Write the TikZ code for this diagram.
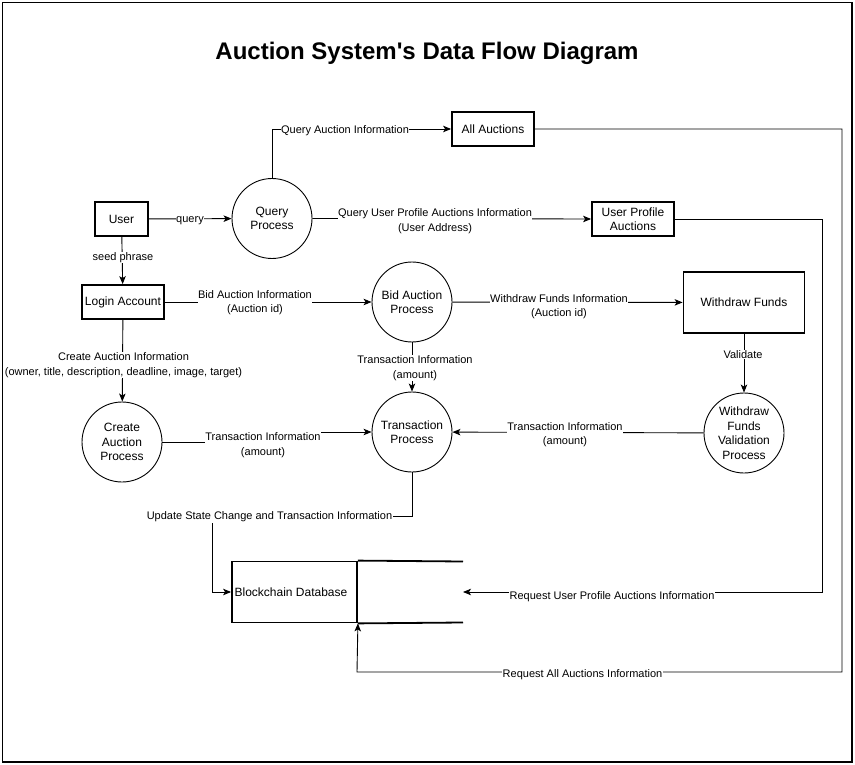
\documentclass[tikz,border=0pt]{standalone}
\usepackage{fontspec}
\setmainfont{Liberation Sans}
\newfontfamily\titlefont{Liberation Sans}
\usetikzlibrary{arrows.meta}
\begin{document}
\begin{tikzpicture}[x=1pt,y=-1pt,
  line width=0.9pt,
  arr/.style={-{Stealth[length=8pt,width=6.5pt,inset=2pt]}},
  boxn/.style={draw,line width=1.8pt,inner sep=0pt,font=\fontsize{12}{14}\selectfont,align=center},
  proc/.style={draw,circle,line width=0.9pt,minimum size=80pt,inner sep=0pt,font=\fontsize{12}{14.5}\selectfont,align=center},
  lbl/.style={fill=white,inner sep=0.5pt,font=\fontsize{11}{14.5}\selectfont,align=center,yshift=-1.5pt}
]
\useasboundingbox (0,0) rectangle (855,765);
\draw[line width=1.5pt] (2.5,2.5) rectangle (852,762);
\node[font=\titlefont\bfseries\fontsize{24}{28}\selectfont] (title) at (427,53) {Auction System's Data Flow Diagram};

% nodes
\node[boxn,minimum width=53pt,minimum height=34pt] (user) at (121.5,219) {User};
\node[proc] (qp) at (272,218.5) {Query\\Process};
\node[boxn,minimum width=82pt,minimum height=34pt] (all) at (493,129) {All Auctions};
\node[boxn,minimum width=82pt,minimum height=34pt] (upa) at (633,219) {User Profile\\Auctions};
\node[boxn,minimum width=82pt,minimum height=34pt] (login) at (123,302) {Login Account};
\node[proc] (bid) at (412,302) {Bid Auction\\Process};
\node[boxn,minimum width=121pt,minimum height=61pt] (wf) at (744,302.5) {Withdraw Funds};
\node[proc] (cap) at (122,442) {Create\\Auction\\Process};
\node[proc] (tp) at (412,432) {Transaction\\Process};
\node[proc] (wfv) at (744,433) {Withdraw\\Funds\\Validation\\Process};

% blockchain data store
\node[draw,line width=1.8pt,minimum width=125pt,minimum height=61pt,inner sep=0pt] (db) at (294.5,592) {};
\node[font=\fontsize{12}{14}\selectfont,inner sep=0pt] (dbtext) at (291,592) {Blockchain Database};
\coordinate (dbend) at (463,592);
\draw[line width=1.8pt] (db.north east) -- (463,561.5);
\draw[line width=1.8pt] (db.south east) -- (463,622.5);

% connectors
\draw[arr] (user) -- (qp);
\node[lbl] (l1) at (190,219) {query};

\draw[arr] (qp.north) |- (all.west);
\node[lbl] (l2) at (345,129) {Query Auction Information};

\draw[arr] (qp.east) -- (upa.west);
\node[lbl] (l3) at (435,219.5) {Query User Profile Auctions Information\\(User Address)};

\draw[arr] (user) -- (login);
\node[lbl] (l4) at (123,256) {seed phrase};

\draw[arr] (login) -- (bid);
\node[lbl] (l5) at (255,301) {Bid Auction Information\\(Auction id)};

\draw[arr] (login) -- (cap);
\node[lbl] (l6) at (123.5,363.5) {Create Auction Information\\(owner, title, description, deadline, image, target)};

\draw[arr] (bid) -- (wf);
\node[lbl] (l7) at (559,305) {Withdraw Funds Information\\(Auction id)};

\draw[arr] (bid) -- (tp);
\node[lbl] (l8) at (415,366.5) {Transaction Information\\(amount)};

\draw[arr] (wf) -- (wfv);
\node[lbl] (l9) at (743,353) {Validate};

\draw[arr] (wfv) -- (tp);
\node[lbl] (l10) at (565,433) {Transaction Information\\(amount)};

\draw[arr] (cap.east) -- (263,442) -- (263,432) -- (tp.west);
\node[lbl] (l11) at (263,443.5) {Transaction Information\\(amount)};

\draw[arr] (tp.south) -- (412,516) -- (212,516) |- (db.west);
\node[lbl] (l12) at (269.5,515.5) {Update State Change and Transaction Information};

\draw[arr] (upa.east) -- (822,219) |- (dbend);
\node[lbl] (l13) at (612,595) {Request User Profile Auctions Information};

\draw[arr] (all.east) -- (842,129) |- (357,672) -- (db.south east);
\node[lbl] (l14) at (582.5,673) {Request All Auctions Information};
\end{tikzpicture}
\end{document}
